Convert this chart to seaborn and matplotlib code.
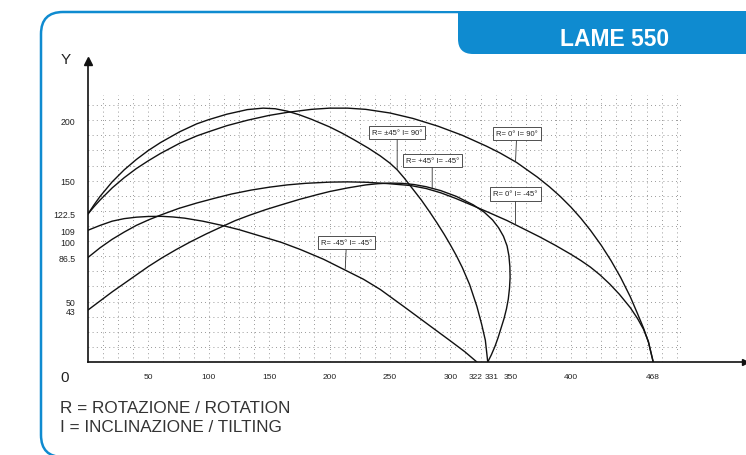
import numpy as np
import pandas as pd
import matplotlib
matplotlib.use("Agg")
import matplotlib.pyplot as plt
from matplotlib.patches import FancyBboxPatch, Rectangle
from matplotlib.transforms import IdentityTransform, ScaledTranslation
import seaborn as sns

# working-range curves (x = reach, y = height)
a_x = [0, 5, 10, 20, 30, 40, 50, 60, 76, 90, 100, 115, 132, 145, 155, 165, 175, 185, 200, 210, 220, 232,
       242, 250, 256, 262, 269, 276, 283, 289, 295, 300, 305, 310, 316, 322, 326, 329, 331]
a_y = [122.5, 130, 137, 149, 159, 167.5, 175, 181.5, 190.5, 197, 200.5, 205, 208.8, 210, 209.5, 207.5, 204.5,
       200.8, 194.5, 189.5, 184, 177, 170.5, 164.5, 159, 152, 143, 134, 124, 115, 105.5, 97, 88, 78, 64, 46,
       31, 18, 0]

b_x = [0, 5, 10, 20, 30, 40, 50, 60, 76, 90, 100, 115, 132, 150, 165, 185, 200, 215, 230, 250, 269, 290,
       310, 330, 341, 355, 372, 382, 391, 400, 408, 416, 425, 433, 441, 449, 455, 460, 464, 468]
b_y = [122.5, 128.5, 134, 144, 152.5, 160, 166.5, 172.5, 181, 187, 190.5, 195.5, 200, 204, 206.5, 209, 210,
       210, 209, 206, 201.5, 195, 187.5, 178.5, 173, 165, 153, 145, 137, 128, 119, 109, 96.5, 84, 70, 54, 40,
       28, 16.5, 0]

c_x = [0, 10, 20, 30, 40, 50, 61, 70, 80, 95, 111, 125, 140, 160, 176, 195, 211, 228, 242, 262, 283, 300, 312, 322]
c_y = [109, 113, 116.5, 118.6, 119.8, 120.4, 120.5, 120, 119, 116.5, 113, 109.5, 105, 99, 93, 85, 77, 68.5,
       60, 45.5, 30, 17.5, 8.5, 0]

d_x = [0, 10, 20, 30, 40, 50, 60, 75, 90, 105, 119, 135, 150, 165, 180, 200, 215, 230, 248, 267, 280, 292,
       304, 316, 330, 347, 360, 374, 387, 400, 408, 416, 424, 432, 440, 449, 455, 460, 464, 468]
d_y = [86.5, 94.5, 101.5, 107.5, 113, 117.5, 121.5, 127, 131.5, 135.5, 139, 142.2, 144.6, 146.5, 147.8, 148.8,
       149, 148.7, 147.6, 146, 143.5, 140, 135.5, 130.5, 124.5, 117, 110.5, 103.5, 96.5, 89, 84, 78.5, 72,
       64.5, 56, 45, 36, 27, 17, 0]

e_x = [0, 10, 20, 30, 40, 50, 61, 73, 85, 98, 111, 122, 134, 147, 160, 175, 190, 200, 215, 230, 240, 250,
       260, 270, 280, 292, 305, 319, 328, 335, 340, 344, 347, 348.5, 349.3, 349.5, 349, 348, 346.5, 344.5,
       342, 339.5, 337, 334, 331]
e_y = [43, 50.5, 58, 65, 72, 79, 86, 93, 99.5, 106, 112, 117, 121.5, 126, 130, 134.5, 138.5, 141, 144, 146.5,
       147.5, 148, 147.8, 146.8, 145, 141.8, 137, 130, 124, 117.5, 111, 104, 96, 88, 79, 70, 61, 52, 44, 36,
       28, 20, 13, 6, 0]

curve_names = ["R= ±45° I= 90°", "R= 0° I= 90°", "R= -45° I= -45°", "R= 0° I= -45°", "R= +45° I= -45°"]

x_ticks = [50, 100, 150, 200, 250, 300, 322, 331, 350, 400, 468]
y_ticks = [200, 150, 122.5, 109, 100, 86.5, 50, 43]
y_tick_labels = ["200", "150", "122.5", "109", "100", "86.5", "50", "43"]

frames = []
for name, xs, ys in zip(curve_names, [a_x, b_x, c_x, d_x, e_x], [a_y, b_y, c_y, d_y, e_y]):
    frames.append(pd.DataFrame({"x": xs, "y": ys, "curve": name, "order": range(len(xs))}))
df = pd.concat(frames, ignore_index=True)

sns.set_theme(style="white")
plt.rcParams["font.family"] = ["Liberation Sans", "DejaVu Sans"]

blue = "#0f8bd0"
W, H = 746, 456
fig = plt.figure(figsize=(W / 100, H / 100), dpi=100)
ax = fig.add_axes([88 / W, 93 / H, 657 / W, 301 / H])

# scanned-drawing style grid
ax.vlines(np.arange(12.5, 500, 12.5), 0, 221, colors="#777777", linestyles=(0, (1, 4)), lw=0.6, zorder=0)
ax.hlines(np.arange(12.5, 225, 12.5), 0, 492, colors="#777777", linestyles=(0, (1, 4)), lw=0.6, zorder=0)

for name in curve_names:
    sub = df[df["curve"] == name].sort_values("order")
    sns.lineplot(data=sub, x="x", y="y", sort=False, estimator=None, color="#111111", lw=1.0, ax=ax)

# curve labels with leader lines
label_pos = [(256, 190), (355, 189), (214, 99), (354, 139), (285, 167)]
point_to = [(256, 159), (354, 166), (213, 77), (354, 114), (285, 144)]
for name, txt, pt in zip(curve_names, label_pos, point_to):
    ax.annotate(name, xy=pt, xytext=txt, fontsize=5.5, ha="center", va="center", color="#222222",
                bbox=dict(boxstyle="square,pad=0.4", fc="white", ec="#333333", lw=0.6),
                arrowprops=dict(arrowstyle="-", lw=0.6, color="#333333", shrinkA=0, shrinkB=0))

ax.set_xlim(0, 544)
ax.set_ylim(0, 249)
ax.set_xticks(x_ticks)
ax.set_xticklabels([str(v) for v in x_ticks])
ax.set_yticks(y_ticks)
ax.set_yticklabels(y_tick_labels)
ax.tick_params(axis="x", direction="inout", length=4, width=0.7, pad=6, labelsize=6, colors="#222222")
ax.tick_params(axis="y", direction="out", length=4, width=0.7, pad=5, labelsize=6.3, colors="#222222")
for lab in ax.get_xticklabels():
    if lab.get_text() == "331":
        lab.set_transform(lab.get_transform() + ScaledTranslation(4 / 100, 0, fig.dpi_scale_trans))
    if lab.get_text() == "322":
        lab.set_transform(lab.get_transform() + ScaledTranslation(-1 / 100, 0, fig.dpi_scale_trans))
ax.set_xlabel("")
ax.set_ylabel("")
for s in ["top", "right"]:
    ax.spines[s].set_visible(False)
for s in ["left", "bottom"]:
    ax.spines[s].set_color("#111111")
    ax.spines[s].set_linewidth(1.2)
ax.plot(1, 0, ">", color="#111111", ms=5, transform=ax.get_yaxis_transform(), clip_on=False)
ax.plot(0, 1, "^", color="#111111", ms=6, transform=ax.get_xaxis_transform(), clip_on=False)

fig.text(66 / W, 1 - 60 / H, "Y", fontsize=11, ha="center", va="center", color="#222222")
fig.text(65 / W, 1 - 378 / H, "0", fontsize=11, ha="center", va="center", color="#222222")

# blue frame and title tab
fig.add_artist(FancyBboxPatch((41, -2), 760, 445, boxstyle="round,pad=0,rounding_size=22",
                              transform=IdentityTransform(), fill=False, ec=blue, lw=1.8))
fig.add_artist(FancyBboxPatch((458, 401), 330, 70, boxstyle="round,pad=0,rounding_size=15",
                              transform=IdentityTransform(), fc=blue, ec="none"))
fig.add_artist(Rectangle((430, 444), 330, 20, transform=IdentityTransform(), fc="white", ec="none"))
fig.text(615 / W, 1 - 40 / H, "LAME 550", fontsize=16.5, fontweight="bold", color="white",
         ha="center", va="center")

fig.text(60 / W, 1 - 409 / H, "R = ROTAZIONE / ROTATION", fontsize=12.3, color="#333333", va="center")
fig.text(60 / W, 1 - 428 / H, "I = INCLINAZIONE / TILTING", fontsize=12.3, color="#333333", va="center")

fig.savefig("out.png", dpi=100)
